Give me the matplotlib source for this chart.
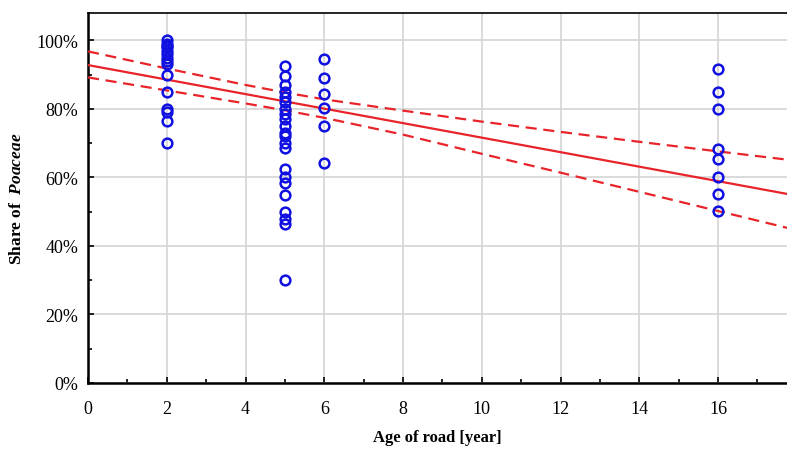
import matplotlib
matplotlib.use("Agg")
import matplotlib.pyplot as plt
from matplotlib.ticker import MultipleLocator, PercentFormatter

# --- Data
age_2 = [1.00, 0.99, 0.985, 0.98, 0.97, 0.96, 0.95, 0.94, 0.93, 0.90, 0.85, 0.80, 0.79, 0.765, 0.70]
age_5 = [0.925, 0.895, 0.87, 0.85, 0.835, 0.82, 0.80, 0.785, 0.77, 0.75, 0.73, 0.72,
         0.70, 0.685, 0.625, 0.60, 0.585, 0.55, 0.50, 0.48, 0.465, 0.30]
age_6 = [0.947, 0.889, 0.845, 0.804, 0.75, 0.643]
age_16 = [0.918, 0.85, 0.80, 0.684, 0.655, 0.602, 0.553, 0.503]
groups = {2: age_2, 5: age_5, 6: age_6, 16: age_16}

# regression line and 95% band, read at a few ages
fit_x = [0, 17.75]
fit_y = [0.928, 0.552]
band_x = [0, 2, 4, 5, 6, 8, 10, 12, 14, 16, 17.75]
band_upper = [0.968, 0.918, 0.870, 0.848, 0.828, 0.795, 0.763, 0.733, 0.704, 0.676, 0.652]
band_lower = [0.892, 0.854, 0.816, 0.796, 0.774, 0.725, 0.669, 0.614, 0.558, 0.502, 0.453]

# --- Style
plt.rcParams['font.family'] = ['Liberation Serif', 'DejaVu Serif']
plt.rcParams['mathtext.fontset'] = 'custom'
plt.rcParams['mathtext.bfit'] = 'Liberation Serif:italic:bold'
plt.rcParams['mathtext.rm'] = 'Liberation Serif'

fig = plt.figure(figsize=(7.87, 4.56), dpi=100)
ax = fig.add_axes([88 / 787, 72 / 456, 1 - 88 / 787, 370 / 456])

red = '#e8242a'
blue = '#1010e0'

ax.plot(fit_x, fit_y, color=red, lw=1.6, zorder=3)
ax.plot(band_x, band_upper, color=red, lw=1.6, ls=(0, (5, 3)), zorder=3)
ax.plot(band_x, band_lower, color=red, lw=1.6, ls=(0, (5, 3)), zorder=3)

for age, vals in groups.items():
    ax.plot([age] * len(vals), vals, ls='none', marker='o', ms=7,
            mfc='none', mec=blue, mew=1.8, zorder=4)

ax.set_xlim(0, 17.75)
ax.set_ylim(0, 1.08)
ax.xaxis.set_major_locator(MultipleLocator(2))
ax.xaxis.set_minor_locator(MultipleLocator(1))
ax.yaxis.set_major_locator(MultipleLocator(0.2))
ax.yaxis.set_minor_locator(MultipleLocator(0.1))
ax.yaxis.set_major_formatter(PercentFormatter(1.0, decimals=0))
ax.set_xticks([0, 2, 4, 6, 8, 10, 12, 14, 16])

ax.grid(True, which='major', color='#d4d4d4', lw=1.2, zorder=0)
ax.set_axisbelow(True)

ax.tick_params(which='both', direction='in', color='black', labelsize=13)
ax.tick_params(which='major', length=4, width=1.2)
ax.tick_params(which='minor', length=3, width=1.2)
ax.tick_params(axis='x', pad=12)
ax.tick_params(axis='y', pad=7)

for s in ['left', 'bottom']:
    ax.spines[s].set_linewidth(1.8)
ax.spines['top'].set_linewidth(1.2)
ax.spines['right'].set_visible(False)

ax.set_xlabel("Age of road [year]", fontsize=12, fontweight='bold', labelpad=9)
ax.set_ylabel(r"Share of  $\mathbfit{Poaceae}$", fontsize=12.5, fontweight='bold', labelpad=8)

fig.savefig("out.png", dpi=100)
